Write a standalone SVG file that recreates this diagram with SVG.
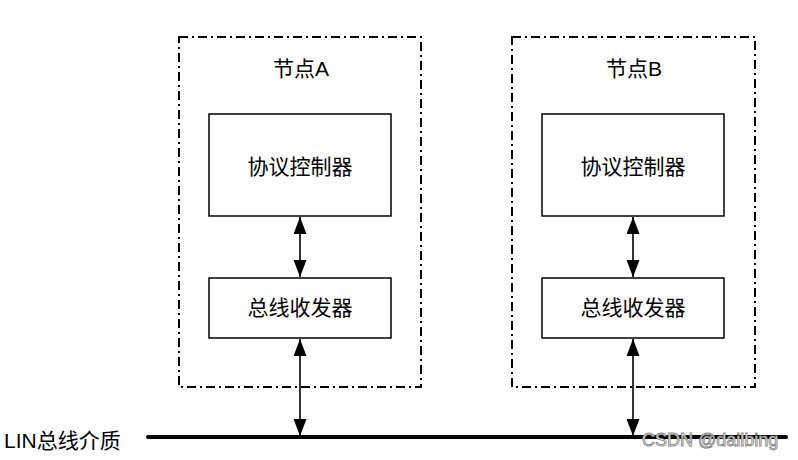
<svg xmlns="http://www.w3.org/2000/svg" width="798" height="460" viewBox="0 0 798 460">
  <style>
    .node-frame { fill: none; stroke: #000; stroke-width: 2; stroke-dasharray: 9 4 2 4; }
    .box { fill: #fff; stroke: #000; stroke-width: 1.5; }
    .lbl { font-family: "Liberation Sans", "Noto Sans CJK SC", sans-serif; font-size: 21px; fill: #000; text-anchor: middle; dominant-baseline: central; }
    .link { stroke: #000; stroke-width: 1.6; fill: none; marker-start: url(#head); marker-end: url(#head); }
    .bus { stroke: #000; stroke-width: 4; stroke-linecap: round; }
    .mark { font-family: "Liberation Sans", sans-serif; font-size: 18px; fill: #fff; stroke: #888; stroke-width: 0.9; paint-order: fill; }
  </style>
  <defs>
    <marker id="head" viewBox="0 0 17 13" refX="17" refY="6.5" markerWidth="17" markerHeight="13" markerUnits="userSpaceOnUse" orient="auto-start-reverse">
      <path d="M0,0 L17,6.5 L0,13 Z" fill="#000"/>
    </marker>
  </defs>
  <rect width="798" height="460" fill="#fff"/>

  <!-- Node A -->
  <g id="nodeA">
    <rect class="node-frame" x="179" y="37" width="242" height="350"/>
    <text class="lbl" x="301" y="68">节点A</text>
    <g id="nodeA-ctrl">
      <rect class="box" x="209" y="114" width="182" height="102"/>
      <text class="lbl" x="300" y="166">协议控制器</text>
    </g>
    <g id="nodeA-xcvr">
      <rect class="box" x="209" y="278" width="182" height="60"/>
      <text class="lbl" x="300" y="307">总线收发器</text>
    </g>
  </g>

  <!-- Node B -->
  <g id="nodeB">
    <rect class="node-frame" x="512" y="37" width="243" height="350"/>
    <text class="lbl" x="634" y="68">节点B</text>
    <g id="nodeB-ctrl">
      <rect class="box" x="542" y="114" width="182" height="102"/>
      <text class="lbl" x="633" y="166">协议控制器</text>
    </g>
    <g id="nodeB-xcvr">
      <rect class="box" x="542" y="278" width="182" height="60"/>
      <text class="lbl" x="633" y="307">总线收发器</text>
    </g>
  </g>

  <!-- Bus medium -->
  <g id="bus">
    <line class="bus" x1="148" y1="437" x2="786" y2="437"/>
    <text class="lbl" x="4" y="440" style="text-anchor:start">LIN总线介质</text>
  </g>

  <!-- Connectors -->
  <g id="connectors">
    <line class="link" x1="300" y1="217" x2="300" y2="277"/>
    <line class="link" x1="300" y1="339" x2="300" y2="436"/>
    <line class="link" x1="633" y1="217" x2="633" y2="277"/>
    <line class="link" x1="633" y1="339" x2="633" y2="436"/>
  </g>

  <text class="mark" x="642" y="446">CSDN @dailbing</text>
</svg>
